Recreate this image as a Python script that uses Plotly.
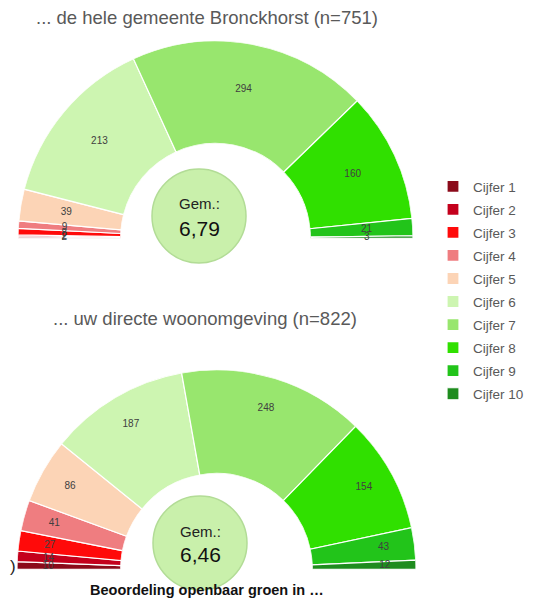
import plotly.graph_objects as go

categories = ["Cijfer 1", "Cijfer 2", "Cijfer 3", "Cijfer 4", "Cijfer 5",
              "Cijfer 6", "Cijfer 7", "Cijfer 8", "Cijfer 9", "Cijfer 10"]
gemeente_values = [2, 2, 8, 9, 39, 213, 294, 160, 21, 3]
woonomgeving_values = [10, 14, 27, 41, 86, 187, 248, 154, 43, 12]
gemeente_mean = "6,79"
woonomgeving_mean = "6,46"
title_top = "... de hele gemeente Bronckhorst (n=751)"
title_bottom = "... uw directe woonomgeving (n=822)"
footer = "Beoordeling openbaar groen in …"

colors = ["#8b0a1a", "#c4001c", "#ff0a0a", "#ef7d80", "#fcd4b6",
          "#cdf5b1", "#98e66e", "#30e000", "#22c41a", "#1e8c1e"]

W, H = 539, 601
OFF = 8  # page body margin offset


def px(x):
    return (x - OFF) / W


def py(y):
    return 1 - (y - OFF) / H


def angles(values):
    total = sum(values)
    cum = 0
    centers, widths = [], []
    for v in values:
        span = v / total * 180.0
        centers.append(cum + span / 2)
        widths.append(span)
        cum += span
    return centers, widths


fig = go.Figure()
charts = [("polar", gemeente_values, 0.55), ("polar2", woonomgeving_values, 0.7)]
for ci, (sub, vals, lr) in enumerate(charts):
    centers, widths = angles(vals)
    for i, cat in enumerate(categories):
        fig.add_trace(go.Barpolar(
            r=[1], theta=[centers[i]], width=[widths[i]],
            name=cat, legendgroup=cat, showlegend=(ci == 0),
            marker=dict(color=colors[i], line=dict(color="white", width=1.2)),
            subplot=sub, hoverinfo="name",
        ))
    fig.add_trace(go.Scatterpolar(
        r=[lr] * len(vals), theta=centers, mode="text",
        text=[str(v) for v in vals],
        textfont=dict(family="Arial, Liberation Sans, sans-serif", size=10, color="#404040"),
        subplot=sub, showlegend=False, hoverinfo="skip",
    ))

polar_common = dict(
    sector=[0, 180], hole=0.48, bgcolor="rgba(0,0,0,0)",
    radialaxis=dict(visible=False, range=[0, 1]),
    angularaxis=dict(visible=False, rotation=180, direction="clockwise",
                     thetaunit="degrees", showgrid=False),
)

fig.update_layout(
    width=W, height=H,
    margin=dict(l=0, r=0, t=0, b=0),
    paper_bgcolor="white", plot_bgcolor="white",
    polar=dict(domain=dict(x=[px(18), px(413)], y=[py(241), py(38)]), **polar_common),
    polar2=dict(domain=dict(x=[px(17), px(416)], y=[py(573), py(366)]), **polar_common),
    legend=dict(x=px(433), y=py(171), xanchor="left", yanchor="top",
                font=dict(family="Arial, Liberation Sans, sans-serif", size=13.5, color="#595959"),
                tracegroupgap=2.5, itemwidth=30, bgcolor="rgba(0,0,0,0)"),
    showlegend=True,
)

# center "Gem." circles
for (cx, cy) in [(199, 216), (200, 543)]:
    r = 47
    fig.add_shape(type="circle", xref="paper", yref="paper",
                  x0=px(cx - r), x1=px(cx + r), y0=py(cy + r), y1=py(cy - r),
                  fillcolor="#c9f0ab", line=dict(color="#b2dc96", width=1.5), layer="above")

font = "Arial, Liberation Sans, sans-serif"
ann = [
    dict(x=207, y=18, text=title_top, font=dict(size=18.5, color="#595959", family=font)),
    dict(x=205, y=318, text=title_bottom, font=dict(size=18.5, color="#595959", family=font)),
    dict(x=199, y=204, text="Gem.:", font=dict(size=15, color="#222222", family=font)),
    dict(x=199, y=228, text=gemeente_mean, font=dict(size=21, color="#111111", family=font)),
    dict(x=200, y=531, text="Gem.:", font=dict(size=15, color="#222222", family=font)),
    dict(x=200, y=554, text=woonomgeving_mean, font=dict(size=21, color="#111111", family=font)),
    dict(x=88, y=590, text="<b>" + footer + "</b>", xanchor="left",
         font=dict(size=14.5, color="#111111", family=font)),
    dict(x=8, y=566, text=")", xanchor="left", font=dict(size=17, color="#222222", family=font)),
]
for a in ann:
    a.setdefault("xanchor", "center")
    a["x"] = px(a["x"])
    a["y"] = py(a["y"])
    fig.add_annotation(xref="paper", yref="paper", yanchor="middle", showarrow=False, **a)

fig.write_html("out.html")
